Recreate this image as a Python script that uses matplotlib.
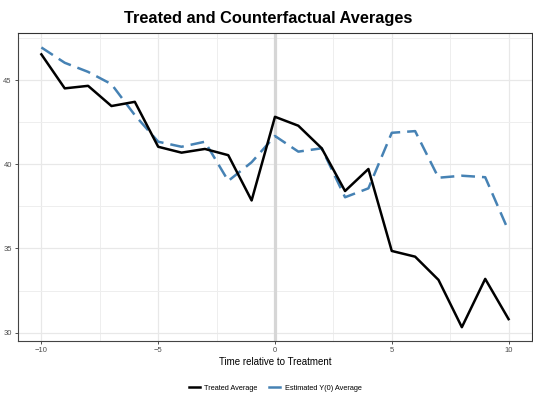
import numpy as np
import matplotlib
matplotlib.use("Agg")
from matplotlib import pyplot as plt
from matplotlib.ticker import MultipleLocator

plt.rcParams['font.family'] = ['Liberation Sans', 'DejaVu Sans']

# data
time = list(range(-10, 11))
treated = [46.53, 44.51, 44.66, 43.46, 43.71, 41.04, 40.69, 40.91, 40.54, 37.85,
           42.82, 42.29, 40.95, 38.41, 39.72, 34.85, 34.51, 33.13, 30.32, 33.19, 30.80]
estimated = [46.94, 46.03, 45.49, 44.76, 42.92, 41.34, 41.04, 41.34, 39.01, 40.12,
             41.68, 40.75, 40.95, 38.04, 38.57, 41.87, 41.97, 39.20, 39.32, 39.23, 36.04]

fig = plt.figure(figsize=(5.33, 3.96), dpi=100)
ax = fig.add_axes([0.0338, 0.1389, 0.9642, 0.7778])

# grid like ggplot theme
ax.xaxis.set_major_locator(MultipleLocator(5))
ax.xaxis.set_minor_locator(MultipleLocator(2.5))
ax.yaxis.set_major_locator(MultipleLocator(5))
ax.yaxis.set_minor_locator(MultipleLocator(2.5))
ax.grid(True, which='major', color='#e8e8e8', lw=0.9)
ax.grid(True, which='minor', color='#eeeeee', lw=0.7)
ax.set_axisbelow(True)

# treatment onset
ax.axvline(0, color='#d6d6d6', lw=2.3, zorder=1)

ax.plot(time, treated, color='black', lw=1.8, label='Treated Average', zorder=3)
ax.plot(time, estimated, color='#4682b4', lw=1.8, dashes=(5.5, 2.8),
        label='Estimated Y(0) Average', zorder=2)

ax.set_xlim(-11, 11)
ax.set_ylim(29.5, 47.8)

for s in ['top', 'right']:
    ax.spines[s].set_color('#333333')
    ax.spines[s].set_linewidth(0.8)
for s in ['left', 'bottom']:
    ax.spines[s].set_color('#444444')
    ax.spines[s].set_linewidth(0.8)

ax.tick_params(which='major', length=2.5, width=0.6, color='#333333',
               labelsize=5.5, labelcolor='#4d4d4d', pad=2)
ax.tick_params(which='minor', length=0)
ax.set_xticks([-10, -5, 0, 5, 10])
ax.set_xticklabels(['\u221210', '\u22125', '0', '5', '10'])

ax.set_xlabel('Time relative to Treatment', fontsize=7, labelpad=2)
fig.suptitle('Treated and Counterfactual Averages', fontsize=11.8,
             fontweight='bold', x=0.503, y=0.972)

leg = fig.legend(loc='lower center', bbox_to_anchor=(0.516, -0.006), ncol=2,
                 frameon=False, fontsize=5.3, handlelength=1.5, columnspacing=1.6,
                 handletextpad=0.6)
# legend keys are short solid strokes in the original
for h in leg.get_lines():
    h.set_linestyle('-')

fig.savefig('out.png', dpi=100)
